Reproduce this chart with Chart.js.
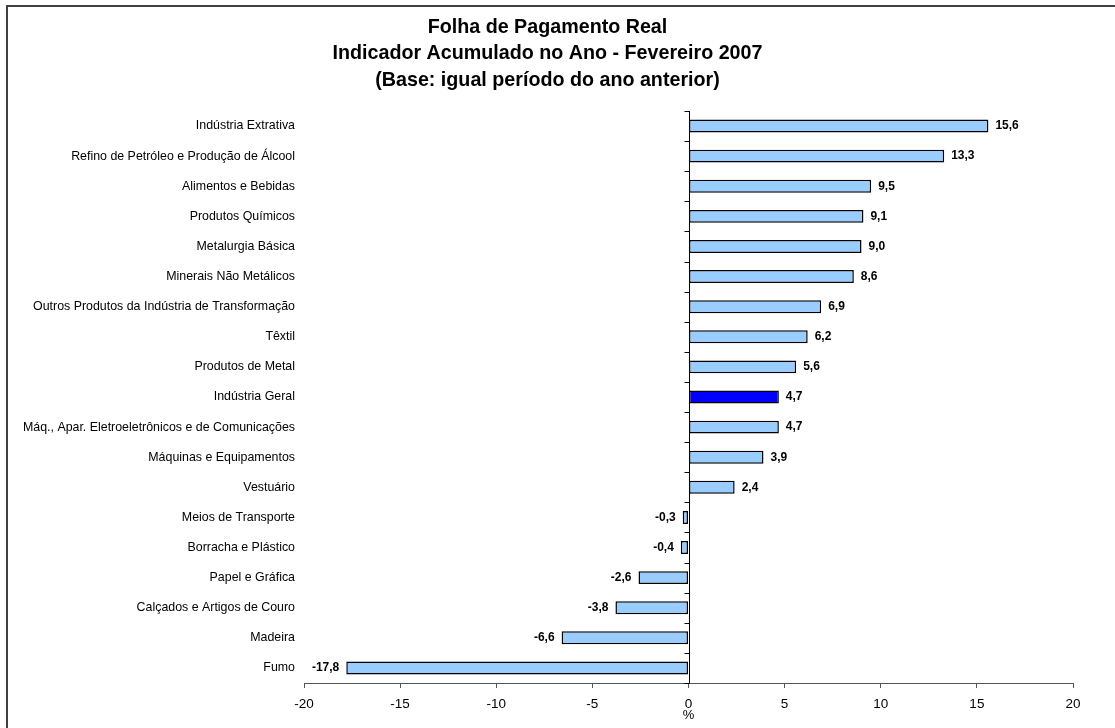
<!DOCTYPE html>
<html>
<head>
<meta charset="utf-8">
<script src="https://cdn.jsdelivr.net/npm/chart.js@4.4.1/dist/chart.umd.min.js"></script>
<style>
html,body{margin:0;padding:0;background:#fff;}
#wrap{position:relative;width:1115px;height:728px;}
</style>
</head>
<body>
<div id="wrap"><canvas id="c" width="1115" height="728"></canvas></div>
<script>
const categories = [
  "Indústria Extrativa",
  "Refino de Petróleo e Produção de Álcool",
  "Alimentos e Bebidas",
  "Produtos Químicos",
  "Metalurgia Básica",
  "Minerais Não Metálicos",
  "Outros Produtos da Indústria de Transformação",
  "Têxtil",
  "Produtos de Metal",
  "Indústria Geral",
  "Máq., Apar. Eletroeletrônicos e de Comunicações",
  "Máquinas e Equipamentos",
  "Vestuário",
  "Meios de Transporte",
  "Borracha e Plástico",
  "Papel e Gráfica",
  "Calçados e Artigos de Couro",
  "Madeira",
  "Fumo"
];
const values = [15.6, 13.3, 9.5, 9.1, 9.0, 8.6, 6.9, 6.2, 5.6, 4.7, 4.7, 3.9, 2.4, -0.3, -0.4, -2.6, -3.8, -6.6, -17.8];
const highlight = "Indústria Geral";
const titleLines = [
  "Folha de Pagamento Real",
  "Indicador Acumulado no Ano - Fevereiro 2007",
  "(Base: igual período do ano anterior)"
];
const xTitle = "%";

const FONT = "Arial, 'Liberation Sans', sans-serif";

const borderPlugin = {
  id: 'frame',
  beforeDraw(chart) {
    const ctx = chart.ctx;
    ctx.save();
    ctx.strokeStyle = '#404040';
    ctx.lineWidth = 2;
    ctx.strokeRect(7, 6, 1300, 1000);
    ctx.restore();
  }
};

const zeroAxisPlugin = {
  id: 'zeroAxis',
  afterDatasetsDraw(chart) {
    const ctx = chart.ctx;
    const xs = chart.scales.x;
    const x0 = Math.round(xs.getPixelForValue(0)) + 0.5;
    const n = categories.length;
    const top = chart.chartArea.top, bottom = chart.chartArea.bottom;
    const step = (bottom - top) / n;
    ctx.save();
    ctx.strokeStyle = '#000';
    ctx.lineWidth = 1;
    ctx.beginPath();
    ctx.moveTo(x0, top);
    ctx.lineTo(x0, bottom);
    for (let i = 0; i <= n; i++) {
      const y = Math.round(top + i * step) + 0.5;
      ctx.moveTo(x0 - 5, y);
      ctx.lineTo(x0, y);
    }
    ctx.stroke();
    ctx.fillStyle = '#000';
    ctx.font = "bold 12px " + FONT;
    ctx.textBaseline = 'middle';
    const meta = chart.getDatasetMeta(0);
    meta.data.forEach((el, i) => {
      const v = values[i];
      const txt = v.toFixed(1).replace('.', ',');
      if (v >= 0) { ctx.textAlign = 'left'; ctx.fillText(txt, el.x + 7, el.y); }
      else { ctx.textAlign = 'right'; ctx.fillText(txt, el.x - 7, el.y); }
    });
    ctx.restore();
  }
};

new Chart(document.getElementById('c'), {
  type: 'bar',
  data: {
    labels: categories,
    datasets: [{
      data: values,
      backgroundColor: categories.map(c => c === highlight ? '#0000FF' : '#99CCFF'),
      borderColor: '#000',
      borderWidth: 1.5,
      borderSkipped: false,
      barPercentage: 0.43,
      categoryPercentage: 1.0
    }]
  },
  options: {
    indexAxis: 'y',
    responsive: false,
    animation: false,
    devicePixelRatio: 1,
    layout: { padding: { left: 0, right: 20, top: 0, bottom: 0 } },
    plugins: {
      legend: { display: false },
      tooltip: { enabled: false },
      title: {
        display: true,
        text: titleLines,
        color: '#000',
        font: { family: FONT, size: 19.7, weight: 'bold', lineHeight: 1.345 },
        padding: { top: 14, bottom: 17.5 }
      }
    },
    scales: {
      x: {
        type: 'linear',
        min: -20, max: 20,
        ticks: { stepSize: 5, color: '#000', font: { family: FONT, size: 13.5 }, padding: 8 },
        grid: { display: true, drawOnChartArea: false, tickLength: 5, color: '#555' },
        border: { display: true, color: '#555', width: 1 },
        title: { display: true, text: xTitle, color: '#000', font: { family: FONT, size: 13 }, padding: { top: 0, bottom: 5 } },
        afterFit(s) { s.height = 45; }
      },
      y: {
        type: 'category',
        position: 'left',
        ticks: { color: '#000', font: { family: FONT, size: 12.4 }, padding: 1, autoSkip: false },
        grid: { display: false },
        border: { display: false },
        afterFit(s) { s.width = 304; }
      },
      yR: {
        type: 'category',
        position: 'right',
        labels: categories,
        ticks: { display: false },
        grid: { display: false },
        border: { display: false },
        afterFit(s) { s.width = 22; }
      }
    }
  },
  plugins: [borderPlugin, zeroAxisPlugin]
});
</script>
</body>
</html>
